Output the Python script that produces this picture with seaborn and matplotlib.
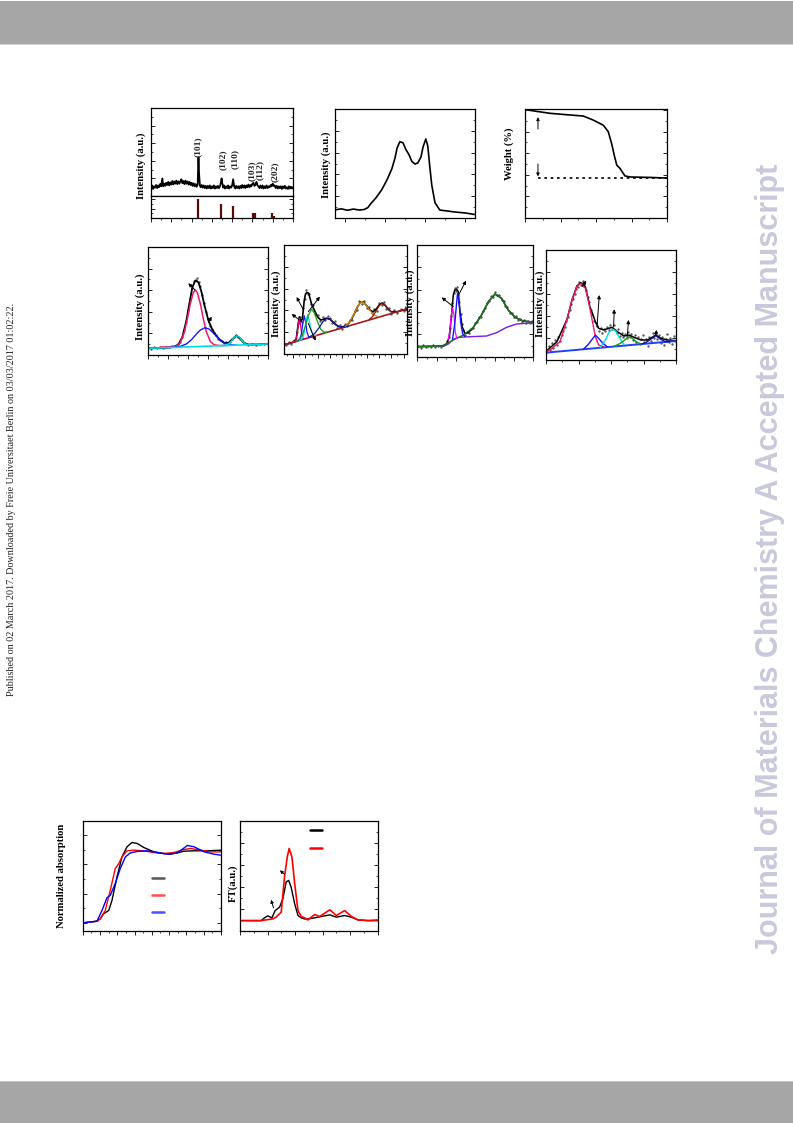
import matplotlib
matplotlib.use("Agg")
import matplotlib.pyplot as plt
import matplotlib.ticker as mticker
from matplotlib.lines import Line2D
from matplotlib.patches import Rectangle
import seaborn as sns

# ── Page geometry (pixels of the 793x1123 page) ──────────────────────────────
W, H = 793, 1123

sns.set_theme(style="ticks")
plt.rcParams["font.family"] = ["Liberation Serif", "DejaVu Serif"]
plt.rcParams["axes.linewidth"] = 0.9

# ── (a) XRD pattern + reference sticks ───────────────────────────────────────
a_2theta = [10, 10.5, 11, 11.5, 12, 12.5, 13, 13.5, 14, 14.5, 15, 15.6, 16, 16.5, 17, 17.5, 18,
            18.5, 19, 19.5, 20, 20.5, 21, 21.5, 22, 22.5, 23, 23.5, 24, 24.5, 25, 25.5, 26, 26.5,
            27, 27.5, 28, 28.5, 29, 29.5, 30, 30.5, 31, 31.5, 32, 32.5, 33, 33.2, 33.4, 33.7,
            34.1, 34.5, 35, 35.5, 36, 36.5, 37, 37.5, 38, 38.5, 39, 39.5, 40, 40.5, 41, 41.5, 42,
            42.5, 43, 43.5, 44, 44.5, 44.8, 45.1, 45.6, 46, 46.5, 47, 47.5, 48, 48.5, 49, 49.5,
            50, 50.5, 51, 51.5, 52, 52.5, 53, 53.5, 54, 54.5, 55, 55.5, 56, 56.5, 57, 57.5, 58,
            58.5, 59, 59.5, 60, 60.5, 61, 61.5, 62, 62.5, 63, 63.5, 64, 64.5, 65, 65.5, 66, 66.5,
            67, 67.5, 68, 68.5, 69, 69.5, 70, 70.5, 71, 71.5, 72, 72.5, 73, 73.5, 74, 74.5, 75,
            75.5, 76, 76.5, 77, 77.5, 78, 78.5, 79, 79.5, 80]
a_intensity = [9, 12, 8, 11, 9.5, 12.5, 9, 12, 10, 13.5, 11, 20, 11, 14, 11.5, 15, 12.5, 16, 12,
               15.5, 13, 17, 13, 16.5, 14, 17.5, 13.5, 16.5, 14, 17, 19, 14.5, 17, 13.5, 17.5, 14,
               16.5, 13, 16, 12.5, 15, 11.5, 14.5, 11, 13.5, 10.5, 13, 28, 44, 25, 12, 10, 12.5,
               9.5, 12, 9, 11.5, 8.5, 11.5, 9, 12, 8.5, 11, 9, 12, 8.5, 11, 9, 11.5, 9, 11, 16, 20,
               15, 9.5, 12, 8.5, 11, 9, 12, 8.5, 11, 9.5, 12, 19, 11, 8.5, 11.5, 9, 11, 8.5, 11.5,
               9, 12.5, 9.5, 12, 9, 12, 10, 13, 10, 12.5, 11, 14, 15, 11.5, 13, 16, 12, 11, 9, 12,
               9, 12, 8.5, 11, 9, 12, 9, 11, 10, 12.5, 11, 14, 11.5, 12, 9, 11.5, 8.5, 11, 9, 11,
               8, 11, 9, 11.5, 8.5, 10, 8, 11, 8.5, 10.5, 8.5, 10]
a_ref_2theta = [33.4, 44.5, 50.4, 60.2, 61.5, 69.6, 70.6]
a_ref_height = [100, 74, 63, 28, 28, 25, 12]
a_peak_labels = ["(101)", "(102)", "(110)", "(103)", "(112)", "(202)"]
a_label_x = [33.2, 45.5, 51.4, 59.8, 63.7, 71.1]
a_label_y = [55.5, 41, 42, 29, 29, 28]

# ── (b) emission / absorption band ───────────────────────────────────────────
b_wavelength = [276, 290, 305, 320, 335, 347, 356, 364, 376, 391, 404, 416, 424, 429, 436, 444,
                451, 459, 466, 474, 481, 489, 494, 501, 506, 511, 516, 524, 536, 555, 574, 600, 623]
b_intensity = [7.6, 8.4, 7.1, 8.2, 7.3, 7.8, 9.5, 13.4, 18.3, 26, 35, 45, 55, 64, 70, 69, 63, 58,
               52, 49.5, 50.5, 56, 65, 72.5, 66, 47, 30, 14, 7.3, 6.4, 5.5, 4.6, 3.2]

# ── (c) TGA ──────────────────────────────────────────────────────────────────
c_temp = [19, 66, 141, 235, 328, 385, 441, 469, 488, 503, 517, 535, 563, 592, 704, 800]
c_weight = [100, 98.8, 97, 95.7, 94.5, 90.7, 86, 80, 69, 58, 49, 46, 39, 38, 37.6, 37]
c_residue = 37.0
c_residue_start = 73

# ── (d) XPS fit 1 ────────────────────────────────────────────────────────────
d_be = [770, 771.5, 773, 774.5, 776, 777.5, 779, 780.5, 782, 783.5, 785, 786, 787, 788, 789, 790,
        791, 792, 793, 793.8, 794.5, 795.3, 796, 797, 798, 799, 800, 801, 802, 803, 804, 805, 806,
        807, 808, 809, 810, 811, 812, 813, 814, 815, 816, 817, 818, 819, 820, 822, 824, 826, 828, 830]
d_counts = [6.5, 5.8, 7.0, 6.2, 7.3, 6.4, 7.5, 7.0, 7.9, 8.6, 10.2, 12.5, 16.9, 22.8, 30.9, 42.0,
            51.5, 61.7, 68.1, 69.5, 70.9, 67.2, 63.8, 55.6, 47.9, 40.1, 33.6, 27.3, 24.0, 20.1, 18.4,
            15.2, 13.5, 12.6, 11.0, 11.8, 10.6, 12.4, 14.9, 16.8, 18.4, 17.1, 14.8, 12.9, 11.5, 10.3,
            9.3, 10.1, 9.2, 10.4, 9.8, 10.3]
d_env_x = [770, 774, 778, 781, 783, 785, 787, 789, 790.5, 792, 793.5, 795, 796.5, 798, 800, 802,
           804, 806, 808, 810, 812, 814, 816, 818, 820, 824, 830]
d_env_y = [6.2, 6.5, 6.7, 7.0, 7.6, 9.7, 16.4, 31.5, 47.4, 62.4, 69.0, 67.5, 59.1, 46.6, 32.4, 23.5,
           17.8, 13.8, 11.3, 11.1, 14.5, 18.0, 15.3, 11.1, 9.7, 9.8, 10.2]
d_pink_x = [776, 780, 782, 784, 786, 788, 789.5, 791, 792.5, 793.5, 794.5, 796, 797.5, 799, 801, 803, 806, 810]
d_pink_y = [7.3, 7.6, 7.9, 8.1, 11.5, 20.9, 33.2, 47.3, 57.8, 60.2, 57.9, 47.6, 33.7, 21.7, 12.5, 9.4, 8.7, 8.9]
d_blue_x = [782, 786, 789, 791.5, 794, 796, 798.4, 800.5, 803, 805.5, 808, 811, 814]
d_blue_y = [7.1, 8.0, 10.2, 14.0, 19.3, 23.1, 25.3, 23.9, 19.5, 14.5, 11.2, 9.5, 9.1]
d_cyan_x = [806, 808, 810, 811.5, 813, 814.2, 815.5, 817, 818.5, 820.5, 824]
d_cyan_y = [8.6, 8.8, 10.1, 12.8, 16.5, 17.9, 16.6, 13.0, 10.2, 9.4, 9.8]
d_base_x = [770, 830]
d_base_y = [6.2, 10.2]
d_arrows = [((793.4, 60.2), (790.0, 66.4)), ((800.0, 29.9), (801.7, 35.5))]

# ── (e) XPS fit 2 ────────────────────────────────────────────────────────────
e_be = [525.5, 526.5, 527.3, 528.0, 528.7, 529.3, 529.8, 530.3, 530.8, 531.3, 531.8, 532.3, 532.8,
        533.3, 533.8, 534.5, 535.2, 536.0, 536.8, 537.6, 538.4, 539.2, 540.0, 540.8, 541.6, 542.4,
        543.2, 544.0, 544.8, 545.6, 546.4, 547.2, 548.0, 548.8, 549.6, 550.4, 551.2, 552.0, 552.8,
        553.6, 554.4, 555.2, 556.0, 556.8, 557.6, 558.4, 559.2, 560.0, 561.0, 562.0, 563.0, 564.0, 564.8]
e_counts = [7.9, 10.6, 9.4, 12.3, 11.8, 20.5, 28.7, 33.9, 29.2, 42.5, 50.1, 58.4, 54.6, 55.2, 46.0,
            44.9, 36.3, 35.7, 30.2, 33.8, 30.9, 35.0, 33.1, 28.2, 30.1, 24.0, 26.6, 23.1, 27.4, 25.5,
            31.6, 30.9, 39.8, 40.6, 48.9, 46.2, 49.0, 42.3, 43.1, 37.6, 41.4, 39.8, 47.1, 44.9, 48.0,
            41.5, 42.6, 37.0, 40.1, 37.2, 41.5, 39.0, 42.4]
e_env_x = [525, 526.5, 528, 529, 529.6, 530, 530.5, 531, 531.6, 532, 532.4, 533, 533.5, 534, 535,
           536, 537, 538, 539, 540, 541, 542, 543, 544, 545, 546, 547, 548, 549, 550, 551, 552, 553,
           554, 555, 556, 557, 558, 559, 560, 562, 565]
e_env_y = [8.3, 9.5, 10.8, 13.9, 26.9, 34.1, 29.7, 32.5, 49.3, 54.8, 56.3, 56.0, 50.9, 45.6, 39.6,
           33.8, 31.2, 31.9, 32.9, 31.8, 29.3, 26.6, 25.0, 24.8, 25.8, 27.9, 31.8, 37.5, 43.6, 47.5,
           47.5, 44.1, 40.3, 38.7, 40.9, 44.9, 46.8, 44.6, 41.0, 38.7, 38.8, 41.3]
e_pink_x = [528.0, 528.8, 529.3, 529.6, 530.0, 530.4, 530.7, 531.2, 532.0]
e_pink_y = [10.8, 12.2, 18.5, 26.3, 32.7, 26.9, 19.7, 14.2, 14.1]
e_blue_x = [529.5, 530.2, 530.7, 531.1, 531.6, 532.1, 532.5, 533.0, 533.8]
e_blue_y = [12.0, 13.6, 18.7, 27.5, 35.1, 28.3, 20.1, 15.9, 15.7]
e_cyan_x = [530.0, 530.9, 531.5, 532.0, 532.7, 533.4, 533.9, 534.5, 535.5]
e_cyan_y = [12.4, 14.1, 18.7, 27.1, 36.0, 28.3, 20.7, 17.1, 17.0]
e_green_x = [529.0, 530.0, 531.0, 532.0, 533.0, 534.0, 535.0, 536.0, 537.0, 538.0, 539.0]
e_green_y = [11.7, 13.5, 17.6, 25.7, 35.7, 41.0, 37.3, 28.9, 22.6, 20.1, 20.1]
e_navy_x = [533.5, 535.0, 536.5, 537.7, 538.9, 540.1, 541.3, 542.8, 544.3, 546.0]
e_navy_y = [15.8, 18.8, 24.4, 29.7, 32.6, 31.7, 28.4, 25.2, 24.7, 25.6]
e_orange_x = [545.0, 546.4, 547.9, 549.1, 550.3, 551.5, 552.7, 554.2, 555.6]
e_orange_y = [25.6, 29.4, 37.0, 44.2, 48.0, 46.2, 41.0, 35.8, 34.4]
e_red_x = [552.8, 553.8, 554.8, 555.8, 556.8, 557.8, 558.8, 559.8, 560.8]
e_red_y = [31.8, 34.1, 38.4, 43.5, 46.5, 45.2, 41.7, 39.0, 38.3]
e_base_x = [525, 565]
e_base_y = [8.3, 41.3]
e_arrows = [((531.3, 40.7), (529.1, 52.3)), ((532.9, 38.8), (536.7, 52.6)),
            ((530.0, 31.2), (527.5, 36.7)), ((532.9, 28.1), (535.3, 12.2))]

# ── (f) XPS fit 3 ────────────────────────────────────────────────────────────
f_be = [700.2, 700.9, 701.5, 702.2, 702.8, 703.5, 704.1, 704.7, 705.3, 706.0, 706.6, 707.2, 707.7,
        708.1, 708.5, 708.8, 709.1, 709.4, 709.7, 710.0, 710.3, 710.6, 710.9, 711.2, 711.6, 711.9,
        712.4, 712.8, 713.4, 713.9, 714.4, 714.9, 715.5, 716.0, 716.5, 717.0, 717.6, 718.1, 718.6,
        719.1, 719.7, 720.2, 720.7, 721.2, 721.8, 722.3, 722.8, 723.3, 723.9, 724.4, 724.9, 725.4,
        726.0, 726.5, 727.0, 727.5, 728.1, 728.6, 729.1, 729.6]
f_counts = [9.5, 8.2, 10.1, 8.8, 9.9, 8.4, 10.3, 9.0, 9.7, 8.6, 10.5, 11.2, 13.8, 17.5, 26.0, 36.2,
            48.5, 57.0, 61.8, 58.4, 62.5, 56.1, 49.2, 38.0, 29.5, 24.1, 19.6, 22.4, 20.8, 24.7, 25.3,
            29.8, 31.2, 35.9, 35.1, 40.6, 43.2, 48.0, 49.7, 54.3, 53.6, 57.8, 54.9, 55.6, 51.2, 50.3,
            45.4, 44.1, 39.5, 38.7, 35.4, 36.1, 32.8, 33.9, 31.5, 33.2, 30.4, 32.3, 29.9, 31.6]
f_env_x = [700, 706.7, 707.6, 708.3, 708.9, 709.3, 709.7, 710.2, 710.6, 711.0, 711.6, 712.3, 713.2,
           714.5, 716.6, 718.4, 720.1, 721.8, 723.5, 725.3, 727.4, 730]
f_env_y = [9.0, 9.6, 11.3, 17.9, 38.8, 55.2, 59.7, 60.3, 58.2, 41.8, 26.9, 20.9, 21.5, 26.3, 37.3,
           49.3, 56.1, 52.2, 41.8, 35.2, 31.9, 31.0]
f_bg_x = [700, 706.7, 708.0, 709.3, 710.6, 713.6, 717.9, 720.5, 723.1, 725.7, 730]
f_bg_y = [9.0, 9.3, 11.3, 15.5, 17.3, 17.9, 18.5, 21.5, 26.3, 29.3, 30.4]
f_green_x = [700, 706.7, 709.3, 711.9, 714.5, 716.6, 718.4, 720.1, 721.8, 723.5, 725.3, 727.4, 730]
f_green_y = [9.0, 9.6, 14.9, 19.4, 26.3, 37.3, 49.3, 56.1, 52.2, 41.8, 35.2, 31.9, 31.0]
f_mag_x = [708.0, 708.4, 708.8, 709.1, 709.5, 709.8, 710.2]
f_mag_y = [14.9, 23.9, 37.3, 43.3, 37.3, 22.4, 16.4]
f_blue_x = [709.1, 709.7, 710.2, 710.4, 710.8, 711.2, 711.7, 712.3]
f_blue_y = [15.5, 29.9, 49.3, 56.7, 49.3, 31.3, 20.9, 17.9]
f_arrows = [((709.3, 44.8), (706.3, 53.1)), ((710.9, 56.7), (712.6, 68.1))]

# ── (g) XPS fit 4 ────────────────────────────────────────────────────────────
g_be = [920.3, 920.8, 921.3, 921.8, 922.3, 922.8, 923.3, 923.8, 924.3, 924.8, 925.3, 925.8, 926.3,
        926.8, 927.3, 927.8, 928.3, 928.8, 929.3, 929.8, 930.3, 930.8, 931.3, 931.8, 932.3, 932.8,
        933.3, 933.8, 934.3, 934.8, 935.3, 935.8, 936.3, 936.8, 937.3, 937.8, 938.3, 938.8, 939.3,
        939.8, 940.3, 940.8, 941.3, 941.8, 942.3, 942.8, 943.3, 943.8, 944.3, 944.8, 945.3, 945.8,
        946.3, 946.8, 947.3, 947.8, 948.3, 948.8, 949.3, 949.8, 950.3, 950.8, 951.3, 951.8, 952.3,
        952.8, 953.3, 953.8, 954.3, 954.8, 955.3, 955.8, 956.3, 956.8, 957.3, 957.8, 958.3, 958.8,
        959.3, 959.8]
g_counts = [7.5, 12.4, 9.1, 15.6, 11.2, 18.3, 14.0, 20.9, 17.2, 22.5, 26.8, 30.1, 35.4, 38.9, 45.2,
            50.6, 55.8, 60.1, 64.5, 66.2, 70.8, 68.4, 72.0, 66.9, 63.2, 57.4, 52.8, 45.6, 41.9, 35.2,
            33.7, 30.6, 26.4, 29.1, 24.8, 28.6, 26.0, 30.2, 27.5, 31.4, 28.3, 32.1, 27.0, 24.6, 27.8,
            22.1, 24.9, 20.5, 23.6, 19.8, 25.7, 21.0, 23.4, 17.9, 22.6, 16.5, 20.7, 14.3, 19.5, 22.8,
            16.2, 18.9, 12.6, 21.3, 17.7, 24.1, 20.4, 25.3, 19.1, 22.6, 15.8, 20.9, 13.4, 19.0, 23.7,
            16.1, 20.2, 14.8, 21.5, 17.6]
g_env_x = [920.2, 923.3, 926.4, 928.0, 929.5, 930.7, 932.1, 933.5, 935.2, 936.2, 937.8, 939.3,
           940.4, 941.9, 944.0, 945.5, 947.1, 949.2, 951.3, 953.8, 955.3, 957.4, 960.0]
g_env_y = [8.5, 16.4, 36.4, 54.5, 67.3, 70.3, 66.7, 48.5, 34.8, 28.8, 27.3, 28.8, 29.7, 25.8, 21.8,
           22.7, 20.6, 18.2, 18.2, 22.7, 19.7, 18.2, 17.6]
g_pink_x = [920.2, 921.2, 924.3, 926.4, 928.0, 929.5, 930.7, 932.1, 933.1, 934.2, 935.2, 936.2, 937.8]
g_pink_y = [8.5, 9.1, 16.7, 36.4, 54.5, 66.7, 69.7, 65.2, 53.0, 36.4, 21.2, 13.6, 12.1]
g_blue_x = [931.6, 933.1, 934.2, 935.2, 936.2, 937.3, 938.8]
g_blue_y = [10.0, 14.5, 18.8, 22.7, 19.7, 15.8, 12.0]
g_cyan_x = [936.7, 938.3, 939.3, 940.4, 941.4, 942.4, 944.0]
g_cyan_y = [11.4, 18.2, 24.8, 27.9, 26.7, 21.2, 13.8]
g_green_x = [941.0, 942.9, 944.5, 945.5, 946.6, 948.1, 949.5]
g_green_y = [12.5, 15.2, 18.8, 21.2, 19.7, 15.8, 14.5]
g_navy_x = [949.5, 950.7, 952.2, 953.8, 955.3, 956.9, 958.0]
g_navy_y = [14.5, 15.8, 18.8, 22.1, 18.8, 16.4, 16.8]
g_base_x = [920, 960]
g_base_y = [6.7, 17.3]
g_arrows = [((931.1, 66.7), (932.4, 72.1)), ((935.7, 30.3), (936.4, 59.1)),
            ((940.8, 30.3), (941.0, 46.1)), ((945.0, 21.2), (945.4, 36.4)),
            ((953.8, 22.7), (954.0, 27.3))]

# ── (h) XANES ────────────────────────────────────────────────────────────────
h_e_black = [7700, 7708.2, 7710.1, 7712.0, 7715.0, 7716.9, 7719.8, 7722.7, 7725.6, 7728.5, 7731.5,
             7735.3, 7741.2, 7747.0, 7750.9, 7754.8, 7758.6, 7764.5, 7772.2, 7780]
h_black = [0, .029, .069, .154, .211, .383, .783, 1.126, 1.297, 1.371, 1.354, 1.286, 1.211, 1.183,
           1.171, 1.194, 1.223, 1.229, 1.229, 1.240]
h_e_red = [7700, 7708.2, 7710.1, 7713.0, 7715.9, 7718.8, 7720.8, 7722.7, 7725.6, 7729.5, 7735.3,
           7741.2, 7747.0, 7752.8, 7758.6, 7762.5, 7768.3, 7774.2, 7780]
h_red = [0, .029, .069, .211, .554, .926, 1.011, 1.126, 1.229, 1.240, 1.229, 1.200, 1.183, 1.200,
         1.251, 1.269, 1.240, 1.211, 1.211]
h_e_blue = [7700, 7708.2, 7711.1, 7714.0, 7715.9, 7718.8, 7721.7, 7724.7, 7727.6, 7731.5, 7737.3,
            7743.1, 7748.9, 7754.8, 7760.6, 7764.5, 7770.3, 7776.1, 7780]
h_blue = [0, .029, .211, .429, .469, .669, .926, 1.126, 1.194, 1.217, 1.229, 1.200, 1.171, 1.194,
          1.320, 1.297, 1.211, 1.171, 1.154]

# ── (i) Fourier transform ────────────────────────────────────────────────────
i_r_black = [0, .76, .88, 1.0, 1.15, 1.27, 1.43, 1.55, 1.67, 1.76, 1.85, 1.98, 2.10, 2.22, 2.34,
             2.46, 2.71, 2.95, 3.26, 3.50, 3.80, 4.05, 4.29, 4.66, 5.0]
i_black = [9.7, 9.7, 12.2, 14.0, 12.2, 18.8, 21.9, 29.5, 44.7, 46.2, 40.1, 24.9, 14.3, 12.2, 11.2,
           11.2, 12.2, 13.4, 14.9, 12.8, 14.3, 12.8, 10.3, 9.7, 9.7]
i_r_red = [0, .76, 1.0, 1.18, 1.30, 1.49, 1.61, 1.71, 1.78, 1.88, 1.98, 2.10, 2.22, 2.34, 2.46,
           2.71, 2.89, 3.26, 3.50, 3.80, 4.05, 4.29, 4.66, 5.0]
i_red = [9.7, 9.7, 10.6, 11.2, 12.8, 17.3, 49.2, 67.5, 75.1, 67.5, 43.2, 18.8, 13.4, 12.2, 10.3,
         15.2, 13.4, 19.5, 14.3, 18.8, 13.4, 10.3, 9.7, 10.3]
i_arrows = [((1.61, 51.7), (1.44, 55.3)), ((1.21, 21.3), (1.12, 28.6))]

PINK, BLUE, CYAN, GREEN = "#f0166e", "#1414ff", "#00dcea", "#169a16"
NAVY, ORANGE, DKRED, PURPLE = "#141496", "#e68a00", "#8c1414", "#7a18f0"
DOTS = "#5a5a5a"


# ── Helpers ──────────────────────────────────────────────────────────────────
def panel(fig, l, t, r, b):
    return fig.add_axes([l / W, 1 - b / H, (r - l) / W, (b - t) / H])


def dress(ax, xlim, ylim, xmaj, ymaj, bottom=True):
    ax.set_xlim(*xlim)
    ax.set_ylim(*ylim)
    ax.xaxis.set_major_locator(mticker.MultipleLocator(xmaj))
    ax.xaxis.set_minor_locator(mticker.MultipleLocator(xmaj / 2))
    ax.yaxis.set_major_locator(mticker.MultipleLocator(ymaj))
    ax.yaxis.set_minor_locator(mticker.MultipleLocator(ymaj / 2))
    ax.tick_params(axis="x", which="both", direction="out", bottom=bottom, top=False,
                   labelbottom=False)
    ax.tick_params(axis="y", which="both", direction="in", left=True, right=True,
                   labelleft=False)
    ax.tick_params(which="major", length=2.6, width=0.6, color="black")
    ax.tick_params(which="minor", length=1.4, width=0.5, color="black")
    for s in ax.spines.values():
        s.set_linewidth(0.9)
        s.set_color("black")
    ax.set_xlabel("")
    ax.set_ylabel("")


def curve(ax, x, y, color, lw=1.0, **kw):
    sns.lineplot(x=x, y=y, ax=ax, color=color, linewidth=lw, sort=False,
                 estimator=None, legend=False, **kw)


def dots(ax, x, y):
    sns.scatterplot(x=x, y=y, ax=ax, color=DOTS, s=3, marker="o", linewidth=0,
                    legend=False, zorder=1)


def arrows(ax, pairs, ms=5):
    for tail, head in pairs:
        ax.annotate("", xy=head, xytext=tail,
                    arrowprops=dict(arrowstyle="-|>", color="black", lw=0.7,
                                    mutation_scale=ms, shrinkA=0, shrinkB=0))


def ylabel(fig, x, y, text):
    fig.text(x / W, 1 - y / H, text, rotation=90, ha="center", va="center",
             fontsize=7.7, fontweight="bold", color="black")


def blank_legend(ax, colors, x0, y0, spacing):
    handles = [Line2D([], [], color=c, lw=1.8) for c in colors]
    ax.legend(handles, [""] * len(colors), loc="upper left", bbox_to_anchor=(x0, y0),
              frameon=False, fontsize=7, handlelength=1.25, handletextpad=0,
              labelspacing=spacing, borderpad=0, borderaxespad=0)


# ── Figure ───────────────────────────────────────────────────────────────────
fig = plt.figure(figsize=(W / 100, H / 100), dpi=100)
fig.patch.set_facecolor("white")

# page header / footer bars
fig.add_artist(Rectangle((0, 1 - 45 / H), 1, 44 / H, transform=fig.transFigure,
                         facecolor="#a6a6a6", edgecolor="none", zorder=0))
fig.add_artist(Rectangle((0, 1 - 45 / H), 1, 1 / H, transform=fig.transFigure,
                         facecolor="#cfcfcf", edgecolor="none", zorder=0))
fig.add_artist(Rectangle((0, 0), 1, (H - 1081) / H, transform=fig.transFigure,
                         facecolor="#a6a6a6", edgecolor="none", zorder=0))
fig.add_artist(Rectangle((0, (H - 1082) / H), 1, 1 / H, transform=fig.transFigure,
                         facecolor="#c4c4c4", edgecolor="none", zorder=0))

# (a) XRD
ax = panel(fig, 151, 108, 293, 196)
curve(ax, a_2theta, a_intensity, "black", lw=1.3)
for lab, lx, ly in zip(a_peak_labels, a_label_x, a_label_y):
    ax.text(lx, ly, lab, rotation=90, ha="center", va="center", fontsize=6.8,
            fontweight="bold")
dress(ax, (10, 80), (0, 100), 10, 20, bottom=False)
ax = panel(fig, 151, 196, 293, 218)
ax.vlines(a_ref_2theta, 0, a_ref_height, color="#5a0a0a", lw=1.6)
dress(ax, (10, 80), (0, 116), 10, 50)
ylabel(fig, 141, 166, "Intensity (a.u.)")

# (b)
ax = panel(fig, 335, 109, 475, 218)
curve(ax, b_wavelength, b_intensity, "black", lw=1.2)
dress(ax, (274, 624), (0, 100), 100, 20)
ylabel(fig, 326, 165, "Intensity (a.u.)")

# (c) TGA
ax = panel(fig, 525, 109, 667, 218)
curve(ax, c_temp, c_weight, "black", lw=1.2)
ax.hlines(c_residue, c_residue_start, 800, color="black", lw=1.2, linestyles=(0, (1.6, 2.2)))
arrows(ax, [((73, 82.4), (73, 93.5)), ((73, 50), (73, 38.5))], ms=4.5)
dress(ax, (0, 800), (0, 101), 200, 20)
ylabel(fig, 509, 154, "Weight (%)")

# (d)
ax = panel(fig, 148.3, 247, 268.3, 355)
dots(ax, d_be, d_counts)
curve(ax, d_env_x, d_env_y, "black", lw=1.3)
curve(ax, d_pink_x, d_pink_y, PINK, lw=1.1)
curve(ax, d_blue_x, d_blue_y, BLUE, lw=1.0)
curve(ax, d_cyan_x, d_cyan_y, CYAN, lw=1.0)
curve(ax, d_base_x, d_base_y, CYAN, lw=1.2)
arrows(ax, d_arrows)
dress(ax, (770, 830), (0, 100), 10, 20)
ylabel(fig, 140, 307, "Intensity (a.u.)")

# (e)
ax = panel(fig, 284, 245, 406.7, 354)
dots(ax, e_be, e_counts)
curve(ax, e_env_x, e_env_y, "black", lw=1.2)
curve(ax, e_base_x, e_base_y, "#a01a1a", lw=1.2)
for xs, ys, c in [(e_pink_x, e_pink_y, "#e0007a"), (e_blue_x, e_blue_y, BLUE),
                  (e_cyan_x, e_cyan_y, CYAN), (e_green_x, e_green_y, GREEN),
                  (e_navy_x, e_navy_y, NAVY), (e_orange_x, e_orange_y, ORANGE),
                  (e_red_x, e_red_y, DKRED)]:
    curve(ax, xs, ys, c, lw=0.9)
arrows(ax, e_arrows)
dress(ax, (525, 565), (0, 100), 4, 20)
ylabel(fig, 276, 304, "Intensity (a.u.)")

# (f)
ax = panel(fig, 417.3, 245, 533.3, 356.7)
dots(ax, f_be, f_counts)
curve(ax, f_env_x, f_env_y, "black", lw=1.1)
curve(ax, f_bg_x, f_bg_y, PURPLE, lw=1.0)
curve(ax, f_green_x, f_green_y, "#187a18", lw=1.0)
curve(ax, f_mag_x, f_mag_y, "#ff00ff", lw=0.9)
curve(ax, f_blue_x, f_blue_y, BLUE, lw=1.0)
arrows(ax, f_arrows)
dress(ax, (700, 730), (0, 100), 5, 20)
ylabel(fig, 410, 303, "Intensity (a.u.)")

# (g)
ax = panel(fig, 546, 250, 676, 360)
dots(ax, g_be, g_counts)
curve(ax, g_env_x, g_env_y, "black", lw=1.1)
curve(ax, g_base_x, g_base_y, "#1f3fff", lw=1.4)
for xs, ys, c in [(g_pink_x, g_pink_y, PINK), (g_blue_x, g_blue_y, BLUE),
                  (g_cyan_x, g_cyan_y, CYAN), (g_green_x, g_green_y, GREEN),
                  (g_navy_x, g_navy_y, NAVY)]:
    curve(ax, xs, ys, c, lw=1.0)
arrows(ax, g_arrows)
dress(ax, (920, 960), (0, 100), 10, 20)
ylabel(fig, 540, 304, "Intensity (a.u.)")

# (h) XANES
ax = panel(fig, 82.8, 821, 220.9, 931.3)
curve(ax, h_e_black, h_black, "black", lw=1.0)
curve(ax, h_e_red, h_red, "#ff0000", lw=1.0)
curve(ax, h_e_blue, h_blue, "#0000ff", lw=1.0)
dress(ax, (7700, 7780), (-0.143, 1.737), 10, 0.5)
blank_legend(ax, ["#555555", "#ff5050", "#5050ff"], 0.5, 0.514, 0.8)
ylabel(fig, 62, 876, "Normalized absorption")

# (i) FT
ax = panel(fig, 240.3, 821, 377.6, 931.3)
curve(ax, i_r_black, i_black, "black", lw=1.0)
curve(ax, i_r_red, i_red, "#ff0000", lw=1.2)
arrows(ax, i_arrows, ms=4.5)
dress(ax, (0, 5), (0, 100), 1, 20)
blank_legend(ax, ["black", "#ff0000"], 0.508, 0.954, 0.95)
ylabel(fig, 233, 883, "FT(a.u.)")

# margin texts
fig.text(12 / W, 1 - 499 / H,
         "Published on 02 March 2017. Downloaded by Freie Universitaet Berlin on 03/03/2017 01:02:22.",
         rotation=90, ha="center", va="center", fontsize=7.3, color="#222222")
fig.text(770 / W, 1 - 559 / H, "Journal of Materials Chemistry A Accepted Manuscript",
         rotation=90, ha="center", va="center", fontsize=22, fontweight="bold",
         color="#c9c9dc", family=["Liberation Sans", "DejaVu Sans"])

fig.savefig("out.png", dpi=100)
